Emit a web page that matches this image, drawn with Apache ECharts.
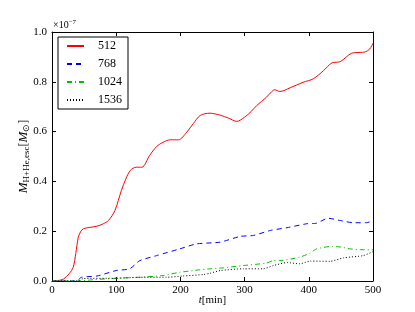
<!DOCTYPE html>
<html><head><meta charset="utf-8">
<script src="https://cdn.jsdelivr.net/npm/echarts@6/dist/echarts.min.js"></script>
<style>html,body{margin:0;padding:0;background:#fff}#c{width:415px;height:312px}</style>
</head><body><div id="c"></div>
<script>
// values in units of 1e-7 M_sun
const t512 = [0, 10, 18, 27, 33, 37, 41, 45, 49, 58, 70, 80, 88, 98, 108, 115, 122, 131, 140, 152, 163, 173, 184, 197, 210, 220, 231, 246, 262, 275, 288, 300, 310, 319, 334, 342, 347, 355, 371, 391, 407, 423, 436, 449, 467, 480, 488, 495, 500];
const v512 = [0, 0.002, 0.008, 0.03, 0.055, 0.11, 0.176, 0.2, 0.21, 0.215, 0.22, 0.23, 0.243, 0.283, 0.363, 0.41, 0.444, 0.457, 0.457, 0.504, 0.540, 0.557, 0.567, 0.567, 0.598, 0.632, 0.665, 0.674, 0.666, 0.654, 0.641, 0.658, 0.68, 0.705, 0.738, 0.76, 0.768, 0.761, 0.776, 0.798, 0.812, 0.845, 0.876, 0.881, 0.915, 0.918, 0.92, 0.932, 0.955];
const t768 = [0, 38, 46, 70, 100, 121, 137, 163, 199, 225, 262, 293, 314, 340, 366, 397, 412, 430, 449, 469, 490, 500];
const v768 = [0, 0, 0.015, 0.02, 0.042, 0.049, 0.082, 0.102, 0.129, 0.149, 0.156, 0.179, 0.183, 0.203, 0.214, 0.23, 0.232, 0.252, 0.243, 0.234, 0.234, 0.243];
const t1024 = [0, 40, 64, 100, 137, 173, 199, 230, 246, 267, 298, 334, 345, 355, 386, 402, 412, 436, 451, 464, 480, 500];
const v1024 = [0, 0, 0.005, 0.011, 0.015, 0.022, 0.035, 0.045, 0.049, 0.053, 0.062, 0.072, 0.082, 0.082, 0.096, 0.112, 0.129, 0.139, 0.136, 0.129, 0.126, 0.125];
const t1536 = [0, 40, 49, 100, 137, 178, 204, 236, 246, 262, 298, 329, 345, 366, 386, 402, 433, 454, 485, 500];
const v1536 = [0, 0, 0.01, 0.011, 0.015, 0.015, 0.02, 0.026, 0.031, 0.042, 0.049, 0.049, 0.062, 0.074, 0.069, 0.08, 0.079, 0.093, 0.102, 0.118];
const seriesNames = ['512', '768', '1024', '1536'];
const xTicks = [0, 100, 200, 300, 400, 500];
const yTicks = [0.0, 0.2, 0.4, 0.6, 0.8, 1.0];

const zip = (a, b) => a.map((x, i) => [x, b[i]]);
const FONT = 'Liberation Serif';
const chart = echarts.init(document.getElementById('c'), null, {renderer: 'canvas'});
const axBase = {
  type: 'value', splitLine: {show: false},
  axisLine: {show: true, onZero: false, lineStyle: {color: '#000', width: 1}},
  axisTick: {show: true, inside: true, length: 4, lineStyle: {color: '#000'}}
};
const lineS = (name, t, v, color, type, smooth) => ({
  name, type: 'line', data: zip(t, v), showSymbol: false, symbol: 'none', smooth,
  lineStyle: {color, width: 1, type}, itemStyle: {color}, xAxisIndex: 0, yAxisIndex: 0
});
chart.setOption({
  animation: false,
  grid: {left: 52, right: 42, top: 32, bottom: 31, containLabel: false, outerBoundsMode: 'none'},
  xAxis: [
    Object.assign({}, axBase, {position: 'bottom', min: xTicks[0], max: xTicks[xTicks.length-1], interval: 100,
      axisLabel: {color: '#000', fontFamily: FONT, fontSize: 11, margin: 4},
      name: '{i|t}[min]', nameLocation: 'middle', nameGap: 14, nameMoveOverlap: false,
      nameTextStyle: {color: '#000', fontFamily: FONT, fontSize: 11,
        rich: {i: {fontStyle: 'italic', fontFamily: FONT, fontSize: 11, color: '#000'}}}}),
    Object.assign({}, axBase, {position: 'top', min: xTicks[0], max: xTicks[xTicks.length-1], interval: 100,
      axisLabel: {show: false}})
  ],
  yAxis: [
    Object.assign({}, axBase, {position: 'left', min: yTicks[0], max: yTicks[yTicks.length-1], interval: 0.2,
      axisLabel: {color: '#000', fontFamily: FONT, fontSize: 11, margin: 5, formatter: v => v.toFixed(1)},
      name: '{i|M}{s|H+He,esc}[{i|M}{s|⊙}]', nameLocation: 'middle', nameGap: 21, nameRotate: 90, nameMoveOverlap: false,
      nameTextStyle: {color: '#000', fontFamily: FONT, fontSize: 12,
        rich: {i: {fontStyle: 'italic', fontFamily: FONT, fontSize: 13, color: '#000'},
               s: {fontFamily: FONT, fontSize: 9, color: '#000', verticalAlign: 'bottom', padding: [5, 0, 0, 0]}}}}),
    Object.assign({}, axBase, {position: 'right', min: yTicks[0], max: yTicks[yTicks.length-1], interval: 0.2,
      axisLabel: {show: false}})
  ],
  legend: {
    orient: 'vertical', left: 58, top: 37, data: seriesNames,
    itemWidth: 17, itemHeight: 11, itemGap: 6,
    padding: [3, 6, 3, 8],
    borderColor: '#000', borderWidth: 1,
    itemStyle: {opacity: 0},
    textStyle: {color: '#000', fontFamily: FONT, fontSize: 12, padding: [0, 0, 0, 9]}
  },
  graphic: [{
    type: 'text', left: 53, top: 19,
    style: {text: '×10{e|−7}', fill: '#000', font: '10px "Liberation Serif"',
      rich: {e: {fontSize: 7, fontFamily: FONT, verticalAlign: 'top', padding: [0, 0, 5, 0], fill: '#000'}}}
  }],
  series: [
    lineS(seriesNames[0], t512, v512, '#ff0000', 'solid', 0.3),
    lineS(seriesNames[1], t768, v768, '#0000ff', [5, 4], 0.2),
    lineS(seriesNames[2], t1024, v1024, '#00bf00', [5, 3, 1, 3], 0.2),
    lineS(seriesNames[3], t1536, v1536, '#000000', [1, 2], 0.2)
  ]
});
</script></body></html>
